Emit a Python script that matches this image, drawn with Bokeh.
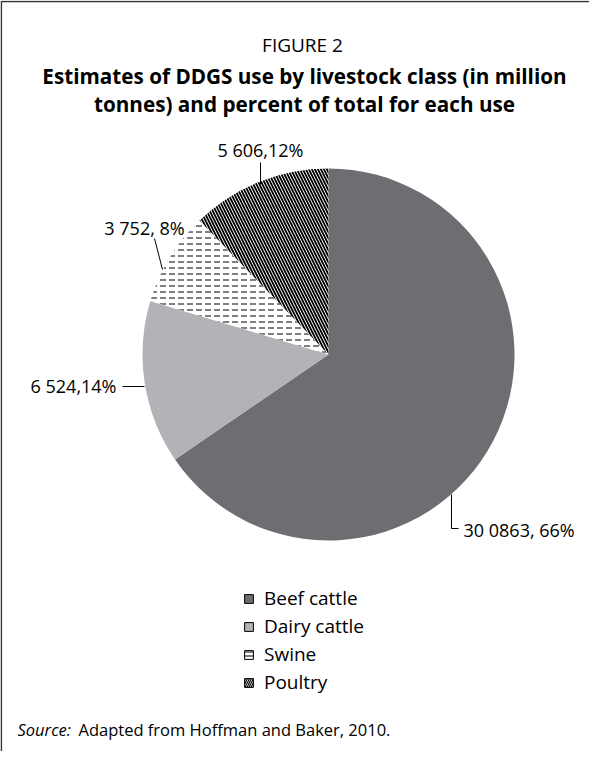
import numpy as np
from bokeh.plotting import figure
from bokeh.models import Range1d, ColumnDataSource, Legend, LegendItem, Label
from bokeh.embed import file_html
from bokeh.resources import INLINE

# ---- data ----
categories = ["Beef cattle", "Dairy cattle", "Swine", "Poultry"]
uses = [30086.3, 6524, 3752, 5606]
label_texts = ["30 0863, 66%", "6 524,14%", "3 752, 8%", "5 606,12%"]

FONT = "Open Sans"
W, H = 589, 751
PAGE_H = 767


def Y(img_y):
    return PAGE_H - img_y


p = figure(width=W, height=H, x_range=Range1d(8, 8 + W), y_range=Range1d(8, 8 + H),
           x_axis_type=None, y_axis_type=None, output_backend="svg",
           toolbar_location=None, min_border=0)
p.grid.visible = False
p.outline_line_color = None
p.background_fill_color = "white"
p.border_fill_color = "white"

# frame (top and left edges)
p.line(x=[8.8, 8.8, 600], y=[0, Y(9), Y(9)], line_color="#333333", line_width=1.6)

# ---- pie ----
cx, cy, R = 336, Y(362), 186
frac = np.array(uses) / np.sum(uses)
cum_end = np.cumsum(frac)
cum_start = cum_end - frac
start_angle = np.pi / 2 - 2 * np.pi * cum_end
end_angle = np.pi / 2 - 2 * np.pi * cum_start

fills = ["#6d6e71", "#b1b3b6", "white", "white"]
for i in range(len(categories)):
    kw = dict(x=cx, y=cy, radius=R, start_angle=start_angle[i], end_angle=end_angle[i],
              fill_color=fills[i], line_color=None)
    if categories[i] == "Swine":
        p.wedge(**kw, hatch_pattern="-", hatch_color="black", hatch_scale=6, hatch_weight=1)
        kw["fill_color"] = None
        kw["fill_alpha"] = 0
        p.wedge(**kw, hatch_pattern="|", hatch_color="white", hatch_scale=9, hatch_weight=3)
    elif categories[i] == "Poultry":
        p.wedge(**kw, hatch_pattern="\\", hatch_color="black", hatch_scale=6, hatch_weight=1.8)
    else:
        p.wedge(**kw)

# ---- labels + leader lines ----
lbl_font_size = "18px"
# beef
p.line(x=[459, 459, 466], y=[Y(502), Y(536), Y(536)], line_color="black", line_width=1)
p.add_layout(Label(x=471, y=Y(537), text=label_texts[0], text_align="left", text_baseline="middle",
                   text_font=FONT, text_font_size=lbl_font_size, text_color="black"))
# dairy
p.line(x=[130, 152], y=[Y(394), Y(394)], line_color="black", line_width=1)
p.add_layout(Label(x=124, y=Y(393), text=label_texts[1], text_align="right", text_baseline="middle",
                   text_font=FONT, text_font_size=lbl_font_size, text_color="black"))
# swine
p.line(x=[162, 170], y=[Y(246), Y(277)], line_color="black", line_width=1)
p.add_layout(Label(x=152, y=Y(235), text=label_texts[2], text_align="center", text_baseline="middle",
                   text_font=FONT, text_font_size=lbl_font_size, text_color="black"))
# poultry
p.line(x=[268, 268], y=[Y(170), Y(192)], line_color="black", line_width=1)
p.add_layout(Label(x=268, y=Y(157), text=label_texts[3], text_align="center", text_baseline="middle",
                   text_font=FONT, text_font_size=lbl_font_size, text_color="black"))

# ---- titles ----
p.add_layout(Label(x=310, y=Y(52), text="FIGURE 2", text_align="center", text_baseline="middle",
                   text_font=FONT, text_font_size="19px", text_color="black"))
p.add_layout(Label(x=312, y=Y(83), text="Estimates of DDGS use by livestock class (in million",
                   text_align="center", text_baseline="middle", text_font=FONT,
                   text_font_size="20.7px", text_font_style="bold", text_color="black"))
p.add_layout(Label(x=312, y=Y(111), text="tonnes) and percent of total for each use",
                   text_align="center", text_baseline="middle", text_font=FONT,
                   text_font_size="20.7px", text_font_style="bold", text_color="black"))

# ---- source ----
p.add_layout(Label(x=25, y=Y(737), text="Source:", text_align="left", text_baseline="middle",
                   text_font=FONT, text_font_size="16.5px", text_font_style="italic", text_color="black"))
p.add_layout(Label(x=86, y=Y(737), text="Adapted from Hoffman and Baker, 2010.", text_align="left",
                   text_baseline="middle", text_font=FONT, text_font_size="16.5px", text_color="black"))

# ---- legend (swatch renderers, not drawn in plot) ----
nan_src = dict(x=[np.nan], y=[np.nan])
sw = []
sw.append([p.rect(x="x", y="y", width=1, height=1, source=ColumnDataSource(nan_src),
                  fill_color=fills[0], line_color="black", line_width=1)])
sw.append([p.rect(x="x", y="y", width=1, height=1, source=ColumnDataSource(nan_src),
                  fill_color=fills[1], line_color="black", line_width=1)])
sw.append([p.rect(x="x", y="y", width=1, height=1, source=ColumnDataSource(nan_src),
                  fill_color="white", line_color="black", line_width=1,
                  hatch_pattern="-", hatch_color="black", hatch_scale=4, hatch_weight=1)])
sw.append([p.rect(x="x", y="y", width=1, height=1, source=ColumnDataSource(nan_src),
                  fill_color="white", line_color="black", line_width=1,
                  hatch_pattern="\\", hatch_color="black", hatch_scale=4, hatch_weight=1.2)])

legend = Legend(items=[LegendItem(label=categories[i], renderers=sw[i]) for i in range(4)],
                location=(243, 56), orientation="vertical",
                glyph_width=11, glyph_height=11, label_height=20, spacing=2, padding=0,
                margin=0, label_standoff=10, border_line_color=None,
                background_fill_alpha=0, label_text_font=FONT, label_text_font_size="19px",
                label_text_color="black")
p.add_layout(legend, "center")

open("out.html", "w").write(file_html(p, INLINE))
